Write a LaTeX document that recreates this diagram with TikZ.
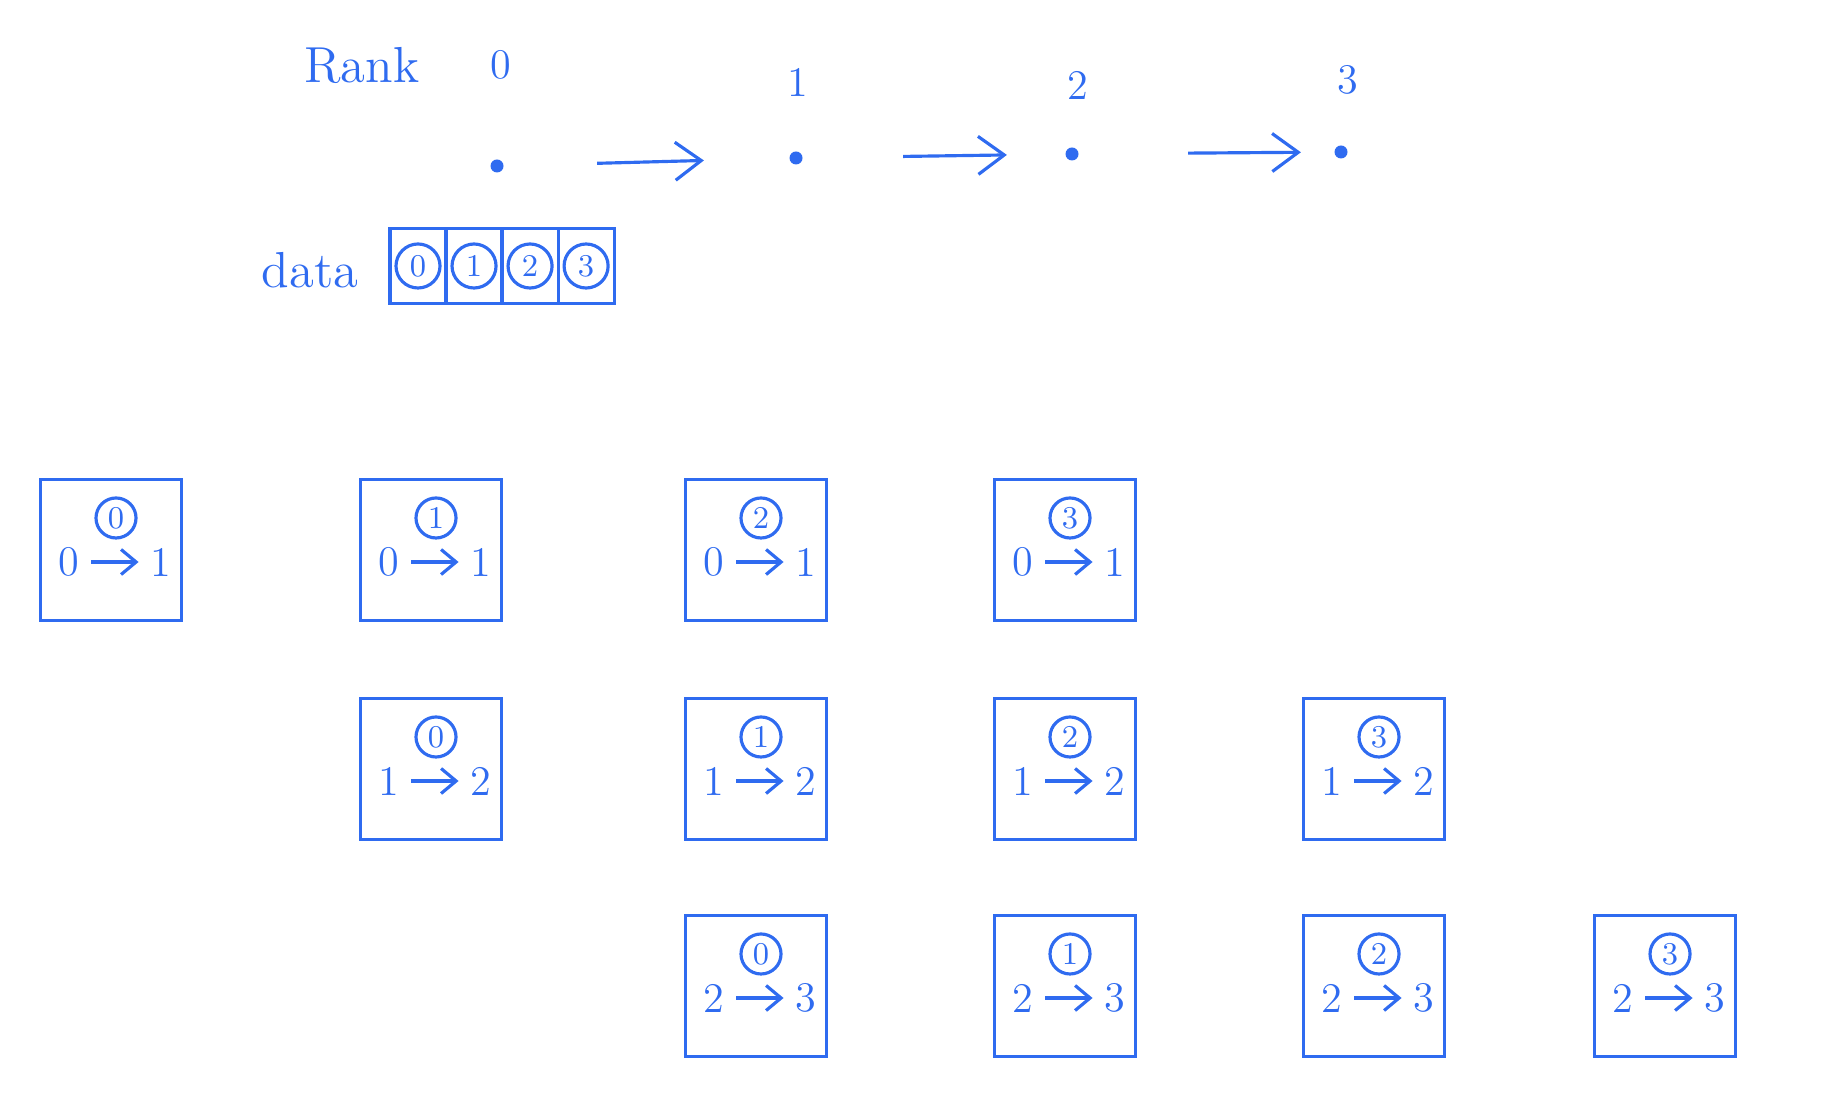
\documentclass[tikz,border=0pt]{standalone}
\usepackage{xcolor}
\usepackage{tikz}
\usetikzlibrary{arrows.meta,positioning}
\definecolor{pen}{RGB}{47,107,240}

\begin{document}
\begin{tikzpicture}[
			x=0.01cm, y=-0.01cm,
			color=pen,
			line width=0.9pt,
			>={Straight Barb[length=1.5mm,width=2.5mm]},
			stepbox/.style={draw, minimum size=1.41cm, inner sep=0pt},
			cell/.style={draw, minimum width=0.56cm, minimum height=0.75cm, inner sep=0pt, outer sep=0pt},
			chunk/.style={draw, circle, inner sep=0.5pt, minimum size=0.4cm, font=\small},
			digit/.style={font=\large, inner sep=3pt},
			dot/.style={fill, circle, minimum size=0.13cm, inner sep=0pt},
			hop/.style={-{Straight Barb[length=2.6mm,width=3.8mm]}}
			]

				\useasboundingbox (0,0) rectangle (1846,1119);

				% ranks
				\node[font=\Large] (rank) at (362,65) {Rank};
				\node[digit] (r0) at (501,65) {0};
				\node[digit] (r1) at (798,82) {1};
				\node[digit] (r2) at (1078,85) {2};
				\node[digit] (r3) at (1348,80) {3};

				\node[dot] (d0) at (497,166) {};
				\node[dot] (d1) at (796,158) {};
				\node[dot] (d2) at (1072,154) {};
				\node[dot] (d3) at (1341,152) {};

				\foreach \s/\t/\a/\b in {d0/d1/0.92/0.84, d1/d2/0.99/0.57, d2/d3/1.08/0.32}
					\draw[hop, shorten <=\a cm, shorten >=\b cm] (\s) -- (\t);

				% data buffer
				\node[font=\Large] (data) at (310,270) {data};
				\node[cell] (c0) at (418,266) {};
				\node[cell, right=0pt of c0] (c1) {};
				\node[cell, right=0pt of c1] (c2) {};
				\node[cell, right=0pt of c2] (c3) {};
				\foreach \k in {0,...,3}
					\node[chunk, minimum size=0.44cm] (k\k) at (c\k) {\k};

				% transfers
				\foreach \nm/\x/\y/\a/\b/\k in {
						r1c0/111/550/0/1/0, r1c1/431/550/0/1/1, r1c2/756/550/0/1/2, r1c3/1065/550/0/1/3,
						r2c0/431/769/1/2/0, r2c1/756/769/1/2/1, r2c2/1065/769/1/2/2, r2c3/1374/769/1/2/3,
						r3c0/756/986/2/3/0, r3c1/1065/986/2/3/1, r3c2/1374/986/2/3/2, r3c3/1665/986/2/3/3}{
					\node[stepbox] (\nm) at (\x,\y) {};
					\node[digit, xshift=-0.42cm, yshift=-0.12cm] (\nm-from) at (\nm) {\a};
					\node[digit, xshift=0.5cm, yshift=-0.12cm] (\nm-to) at (\nm) {\b};
					\node[chunk, xshift=0.05cm, yshift=0.32cm] (\nm-chunk) at (\nm) {\k};
					\draw[->] (\nm-from) -- (\nm-to);
				}

			\end{tikzpicture}
\end{document}
